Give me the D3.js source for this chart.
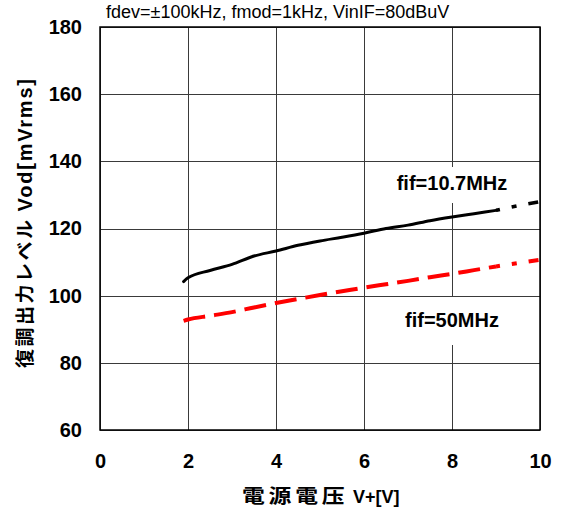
<!DOCTYPE html>
<html><head><meta charset="utf-8">
<script src="https://cdn.jsdelivr.net/npm/d3@7"></script>
<style>
body{margin:0;background:#fff;}
svg{display:block;}
</style></head>
<body>
<script>
const titleText = "fdev=±100kHz, fmod=1kHz, VinIF=80dBuV";
const xTitleJa = "電源電压";
const xTitleEn = "V+[V]";
const yTitleJa = "復調出力レベル";
const yTitleEn = "Vod[mVrms]";
const xTicks = [0, 2, 4, 6, 8, 10];
const yTicks = [60, 80, 100, 120, 140, 160, 180];

const voltage = [1.9, 2.0, 2.5, 3.0, 3.5, 4.0, 4.5, 5.0, 5.5, 6.0, 6.5, 7.0, 7.5, 8.0, 8.5, 9.0];
const vod107 = [104.2, 105.3, 107.5, 109.3, 111.8, 113.3, 115.0, 116.3, 117.4, 118.6, 120.0, 121.0, 122.3, 123.4, 124.4, 125.4];
const vod50 = [92.5, 92.9, 94.0, 95.1, 96.5, 97.8, 99.0, 100.2, 101.3, 102.4, 103.4, 104.4, 105.5, 106.5, 107.6, 108.7];
const tailVoltage = [9.0, 9.5, 10.0];
const tail107 = [125.4, 126.8, 128.0];
const tail50 = [108.7, 109.7, 110.7];
const label107 = "fif=10.7MHz";
const label50 = "fif=50MHz";

const W = 562, H = 511;
const m = {left: 100, top: 27, right: 22, bottom: 81};
const w = W - m.left - m.right, h = H - m.top - m.bottom;

const svg = d3.select("body").append("svg").attr("width", W).attr("height", H);
const g = svg.append("g").attr("transform", `translate(${m.left},${m.top})`);

const x = d3.scaleLinear().domain([0, 10]).range([0, w]);
const y = d3.scaleLinear().domain([60, 180]).range([h, 0]);

const font = "'Liberation Sans', Arial, 'Noto Sans CJK JP', sans-serif";
const cjkFont = "'Noto Sans CJK JP', sans-serif";

// grid + axes
const yAxis = g.append("g").call(d3.axisLeft(y).tickValues(yTicks).tickSize(-w).tickPadding(18));
const xAxis = g.append("g").attr("transform", `translate(0,${h})`)
  .call(d3.axisBottom(x).tickValues(xTicks).tickSize(-h).tickPadding(24));
[xAxis, yAxis].forEach(a => {
  a.select(".domain").remove();
  a.selectAll("line").attr("stroke", "#3a3a3a").attr("stroke-width", 1).attr("shape-rendering", "crispEdges");
  a.selectAll("text").attr("font-family", font).attr("font-size", 20).attr("font-weight", "bold").attr("fill", "#000");
});

// label backgrounds
g.append("rect").attr("x", x(8) - 62).attr("y", 167 - m.top).attr("width", 124).attr("height", 36).attr("fill", "#fff");
g.append("rect").attr("x", x(8) - 56).attr("y", 297 - m.top).attr("width", 112).attr("height", 48).attr("fill", "#fff");

// frame
g.append("rect").attr("x", 0).attr("y", 0).attr("width", w).attr("height", h)
  .attr("fill", "none").attr("stroke", "#000").attr("stroke-width", 1.5);

const line = d3.line().x(d => x(d[0])).y(d => y(d[1])).curve(d3.curveMonotoneX);

g.append("path").datum(voltage.map((v, i) => [v, vod107[i]])).attr("d", line)
  .attr("fill", "none").attr("stroke", "#000").attr("stroke-width", 3).attr("stroke-linecap", "round");
g.append("path").datum(tailVoltage.map((v, i) => [v, tail107[i]])).attr("d", line)
  .attr("fill", "none").attr("stroke", "#000").attr("stroke-width", 3.5)
  .attr("stroke-dasharray", "10,12,5,12").attr("stroke-dashoffset", 6);

g.append("path").datum(voltage.map((v, i) => [v, vod50[i]])).attr("d", line)
  .attr("fill", "none").attr("stroke", "#ff0000").attr("stroke-width", 4)
  .attr("stroke-dasharray", "22,9");
g.append("path").datum(tailVoltage.map((v, i) => [v, tail50[i]])).attr("d", line)
  .attr("fill", "none").attr("stroke", "#ff0000").attr("stroke-width", 4)
  .attr("stroke-dasharray", "10,12,5,12").attr("stroke-dashoffset", 6);

// series labels
g.append("text").attr("x", x(8)).attr("y", 190 - m.top).attr("text-anchor", "middle")
  .attr("font-family", font).attr("font-size", 20).attr("font-weight", "bold").text(label107);
g.append("text").attr("x", x(8)).attr("y", 327 - m.top).attr("text-anchor", "middle")
  .attr("font-family", font).attr("font-size", 20).attr("font-weight", "bold").text(label50);

// title
svg.append("text").attr("x", 106).attr("y", 18).attr("font-family", font).attr("font-size", 18)
  .attr("fill", "#000").text(titleText);

// x axis title
svg.append("text").attr("transform", "translate(242,503) scale(1.2,1)")
  .attr("font-family", cjkFont).attr("font-size", 19).attr("font-weight", "bold")
  .attr("letter-spacing", 3.2).text(xTitleJa);
svg.append("text").attr("x", 353).attr("y", 503)
  .attr("font-family", font).attr("font-size", 18).attr("font-weight", "bold").text(xTitleEn);

// y axis title
const yt = svg.append("text").attr("transform", `translate(32,368) rotate(-90)`).attr("font-weight", "bold");
yt.append("tspan").attr("font-family", cjkFont).attr("font-size", 19).attr("letter-spacing", 2.5).text(yTitleJa);
yt.append("tspan").attr("font-family", font).attr("font-size", 20).attr("letter-spacing", 1.8).attr("dx", 6).text(yTitleEn);
</script>
</body></html>
